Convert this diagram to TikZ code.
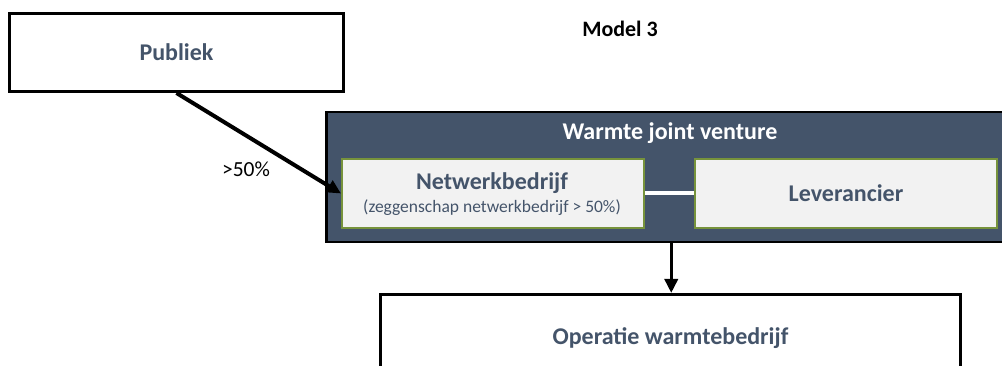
\documentclass[tikz,border=0pt]{standalone}
\usepackage{fontspec}
\setmainfont{Carlito}
\usetikzlibrary{arrows.meta}
\definecolor{slate}{HTML}{44546A}
\definecolor{olive}{HTML}{77933C}
\definecolor{panel}{HTML}{F2F2F2}
\begin{document}
\begin{tikzpicture}[x=1pt,y=-1pt,
  box/.style={draw=black, line width=3pt, fill=white, inner sep=0pt,
    anchor=north west, text=slate, text height=15.5pt, text depth=0pt,
    font=\fontsize{24}{28}\selectfont\bfseries},
  venture/.style={draw=black, line width=2.5pt, fill=slate, inner sep=0pt,
    anchor=north west},
  unit/.style={draw=olive, line width=2pt, fill=panel, inner sep=0pt,
    anchor=north west, text=slate, text height=15.5pt, text depth=0pt,
    font=\fontsize{24}{28}\selectfont\bfseries},
  heading/.style={font=\fontsize{24}{28}\selectfont\bfseries, inner sep=0pt, anchor=base},
  note/.style={font=\fontsize{17.5}{20}\selectfont, text=slate, inner sep=0pt, anchor=base},
  flow/.style={line width=4pt, -{Triangle[length=14pt,width=13pt]}}]
\useasboundingbox (0,0) rectangle (1002,366);
\clip (0,0) rectangle (1002,366);

% title
\node[heading, font=\fontsize{22}{26}\selectfont\bfseries] (model) at (620,37) {Model 3};

% owner
\node[box, minimum width=334pt, minimum height=78pt] (pub) at (8,12) {Publiek};

% joint venture panel with its two members
\node[venture, minimum width=690pt, minimum height=130pt] (jv) at (325,111) {};
\node[heading, text=white] (jvtitle) at (670,140) {Warmte joint venture};
\node[unit, minimum width=302pt, minimum height=69pt] (net) at (341,158) {};
\node[heading, text=slate] (nettitle) at (492,190) {Netwerkbedrijf};
\node[note] (netnote) at (492,213) {(zeggenschap netwerkbedrijf > 50\%)};
\node[unit, minimum width=302pt, minimum height=69pt] (lev) at (694,158) {Leverancier};

% operating company
\node[box, minimum width=580pt, minimum height=85pt] (ops) at (379,293) {Operatie warmtebedrijf};

% connectors
\draw[flow] (pub.south) -- (net.west);
\node[font=\fontsize{21.5}{24}\selectfont, inner sep=0pt, anchor=base] (share) at (246,177) {>50\%};
\draw[white, line width=4pt] (net.east) -- (lev.west);
\draw[flow, line width=3.5pt] (jv.south) -- (jv.south |- ops.north);
\end{tikzpicture}
\end{document}
